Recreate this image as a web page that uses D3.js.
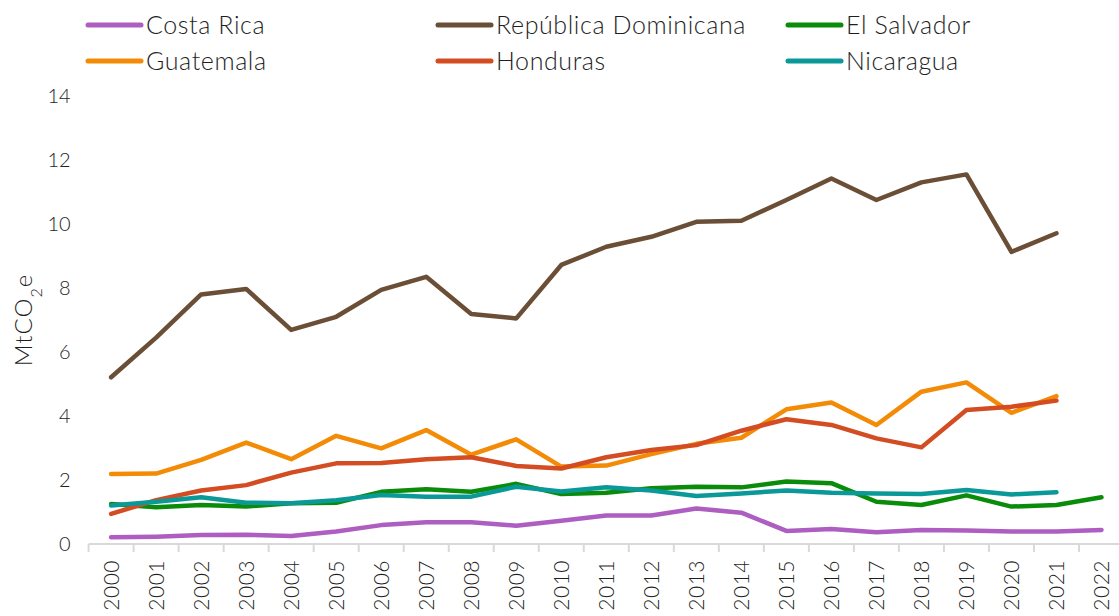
<!DOCTYPE html>
<html>
<head>
<meta charset="utf-8">
<script src="https://cdn.jsdelivr.net/npm/d3@7"></script>
<style>
  body { margin: 0; background: #fff; }
  svg { display: block; font-family: Lato, "Noto Sans", sans-serif; font-weight: 300; }
</style>
</head>
<body>
<div id="root"></div>
<script>
const w = 1119;
const h = 616;
const margin = { top: 96, bottom: 72, left: 88.6, right: -5 };

const years = d3.range(2000, 2023);
const yTicks = [0, 2, 4, 6, 8, 10, 12, 14];

const countries = ["Costa Rica", "República Dominicana", "El Salvador", "Guatemala", "Honduras", "Nicaragua"];
const colors = ["#ae5ec0", "#6a4e36", "#0a8c0a", "#f38b06", "#d34c22", "#0a9898"];

// values per year, 2000..2022 (null = no data)
const costaRica = [0.21, 0.23, 0.28, 0.29, 0.25, 0.39, 0.59, 0.68, 0.68, 0.57, 0.73, 0.89, 0.89, 1.11, 0.98, 0.41, 0.47, 0.37, 0.44, 0.42, 0.39, 0.39, 0.44];
const repDominicana = [5.21, 6.45, 7.80, 7.97, 6.69, 7.10, 7.94, 8.35, 7.19, 7.05, 8.72, 9.29, 9.60, 10.07, 10.10, 10.75, 11.42, 10.75, 11.30, 11.55, 9.13, 9.71, null];
const elSalvador = [1.25, 1.15, 1.22, 1.17, 1.27, 1.29, 1.63, 1.71, 1.63, 1.88, 1.56, 1.60, 1.74, 1.79, 1.77, 1.95, 1.90, 1.32, 1.22, 1.52, 1.17, 1.22, 1.46];
const guatemala = [2.19, 2.20, 2.63, 3.17, 2.65, 3.38, 2.99, 3.56, 2.79, 3.27, 2.42, 2.45, 2.81, 3.13, 3.32, 4.21, 4.42, 3.72, 4.76, 5.05, 4.10, 4.62, null];
const honduras = [0.94, 1.37, 1.67, 1.84, 2.23, 2.52, 2.53, 2.65, 2.71, 2.44, 2.36, 2.71, 2.94, 3.09, 3.54, 3.90, 3.72, 3.30, 3.02, 4.19, 4.29, 4.48, null];
const nicaragua = [1.20, 1.32, 1.46, 1.29, 1.27, 1.37, 1.53, 1.48, 1.48, 1.79, 1.64, 1.77, 1.67, 1.50, 1.58, 1.67, 1.60, 1.58, 1.56, 1.69, 1.55, 1.62, null];

const seriesValues = [costaRica, repDominicana, elSalvador, guatemala, honduras, nicaragua];

const svg = d3.select("#root")
    .append("svg")
    .attr("width", w)
    .attr("height", h);

const xScale = d3.scaleBand()
    .domain(years)
    .range([margin.left, w - margin.right])
    .padding(0);

const yScale = d3.scaleLinear()
    .domain([0, 14])
    .range([h - margin.bottom, margin.top]);

const textColor = "#1e1e1e";

// y axis labels
const yAxis = d3.axisLeft(yScale).tickValues(yTicks).tickSize(0).tickPadding(18);
const yG = svg.append("g")
    .attr("transform", "translate(" + margin.left + ",0)")
    .call(yAxis);
yG.select(".domain").remove();
yG.selectAll("text")
    .attr("fill", textColor)
    .style("font-family", "Lato, sans-serif")
    .style("font-weight", 300)
    .style("font-size", "20px");

// y title
const yTitle = svg.append("text")
    .attr("transform", "translate(32," + ((h - margin.bottom + margin.top) / 2) + ") rotate(-90)")
    .attr("text-anchor", "middle")
    .attr("fill", textColor)
    .style("font-size", "24px")
    .style("letter-spacing", "1px");
yTitle.append("tspan").text("MtCO");
yTitle.append("tspan").text("2").attr("baseline-shift", "sub").style("font-size", "16px");
yTitle.append("tspan").text("e");

// x axis
const y0 = yScale(0);
svg.append("line")
    .attr("x1", margin.left)
    .attr("x2", w - margin.right)
    .attr("y1", y0)
    .attr("y2", y0)
    .attr("stroke", "#d9d9d9")
    .attr("stroke-width", 2);

svg.selectAll(".xtick")
    .data(years)
    .enter()
    .append("line")
    .attr("class", "xtick")
    .attr("x1", d => xScale(d))
    .attr("x2", d => xScale(d))
    .attr("y1", y0)
    .attr("y2", y0 + 8)
    .attr("stroke", "#d9d9d9")
    .attr("stroke-width", 2);

svg.selectAll(".xlabel")
    .data(years)
    .enter()
    .append("text")
    .attr("class", "xlabel")
    .attr("transform", d => "translate(" + (xScale(d) + xScale.bandwidth() / 2 + 8) + "," + (y0 + 16) + ") rotate(-90)")
    .attr("text-anchor", "end")
    .attr("fill", textColor)
    .style("font-size", "21px")
    .style("letter-spacing", "0.5px")
    .text(d => d);

// lines
const line = d3.line()
    .defined(d => d.v != null)
    .x(d => xScale(d.year) + xScale.bandwidth() / 2)
    .y(d => yScale(d.v));

seriesValues.forEach((vals, i) => {
    svg.append("path")
        .datum(years.map((yr, j) => ({ year: yr, v: vals[j] })))
        .attr("d", line)
        .attr("fill", "none")
        .attr("stroke", colors[i])
        .attr("stroke-width", 4.5)
        .attr("stroke-linejoin", "round")
        .attr("stroke-linecap", "round");
});

// legend
const legendX = [88, 438, 788];
const legendY = [25, 61];
const legend = svg.append("g").attr("id", "legend");
countries.forEach((name, i) => {
    const lx = legendX[i % 3];
    const ly = legendY[Math.floor(i / 3)];
    legend.append("line")
        .attr("x1", lx)
        .attr("x2", lx + 53)
        .attr("y1", ly)
        .attr("y2", ly)
        .attr("stroke", colors[i])
        .attr("stroke-width", 5)
        .attr("stroke-linecap", "round");
    legend.append("text")
        .attr("x", lx + 58)
        .attr("y", ly)
        .attr("dy", "0.36em")
        .attr("fill", textColor)
        .style("font-size", "25px")
        .style("letter-spacing", "0.6px")
        .text(name);
});
</script>
</body>
</html>
